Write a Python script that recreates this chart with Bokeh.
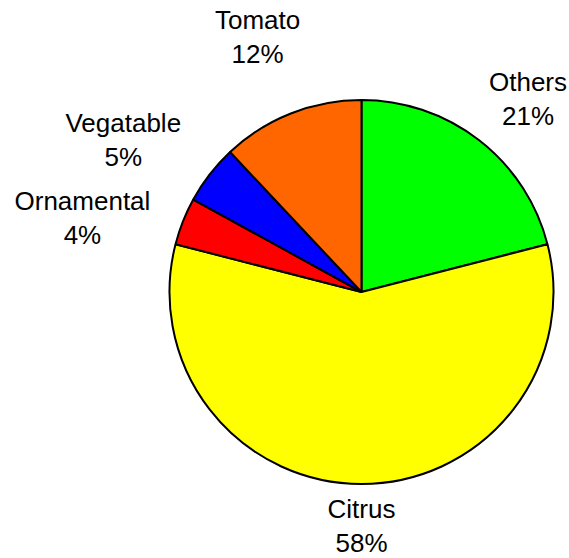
import math
from bokeh.plotting import figure
from bokeh.models import Range1d, ColumnDataSource
from bokeh.core.properties import value
from bokeh.embed import file_html
from bokeh.resources import INLINE

# ---- data ----
categories = ["Others", "Citrus", "Ornamental", "Vegatable", "Tomato"]
percents = [21, 58, 4, 5, 12]
colors = ["#00FF00", "#FFFF00", "#FF0000", "#0000FF", "#FF6600"]

# ---- layout (pixel coordinates, y measured upward from bottom) ----
W, H = 569, 558
cx, cy = 361, H - 291.5
R = 192
label_r = R * 1.3
# small per-label placement tweaks (pixels: right, up)
label_dx = [13.5, 0, -47, -41, -12]
label_dy = [-4, 16, -18, -1, 23]
line_gap = 17

total = float(sum(percents))
starts, ends, lx, ly_name, ly_pct, pct_txt = [], [], [], [], [], []
cum = 0.0
for i, v in enumerate(percents):
    a0 = math.pi / 2 - 2 * math.pi * cum / total
    cum += v
    a1 = math.pi / 2 - 2 * math.pi * cum / total
    starts.append(a0)
    ends.append(a1)
    mid = (a0 + a1) / 2
    x = cx + label_r * math.cos(mid) + label_dx[i]
    y = cy + label_r * math.sin(mid) + label_dy[i]
    lx.append(x)
    ly_name.append(y + line_gap)
    ly_pct.append(y - line_gap)
    pct_txt.append(f"{v}%")

src = ColumnDataSource(dict(start=starts, end=ends, color=colors,
                            x=lx, yn=ly_name, yp=ly_pct,
                            name=categories, pct=pct_txt))

p = figure(width=W, height=H, output_backend="svg", toolbar_location=None,
           x_range=Range1d(0, W), y_range=Range1d(0, H),
           min_border=0, x_axis_location=None, y_axis_location=None)
p.grid.visible = False
p.outline_line_color = None
p.background_fill_color = "white"
p.border_fill_color = "white"

p.wedge(x=cx, y=cy, radius=R, start_angle="start", end_angle="end",
        direction="clock", fill_color="color", line_color="black",
        line_width=2, source=src)

font = value("Liberation Sans")
p.text(x="x", y="yn", text="name", source=src, text_font=font,
       text_font_size="26px", text_align="center",
       text_baseline="alphabetic", text_color="black")
p.text(x="x", y="yp", text="pct", source=src, text_font=font,
       text_font_size="26px", text_align="center",
       text_baseline="alphabetic", text_color="black")

open("out.html", "w").write(file_html(p, INLINE))
